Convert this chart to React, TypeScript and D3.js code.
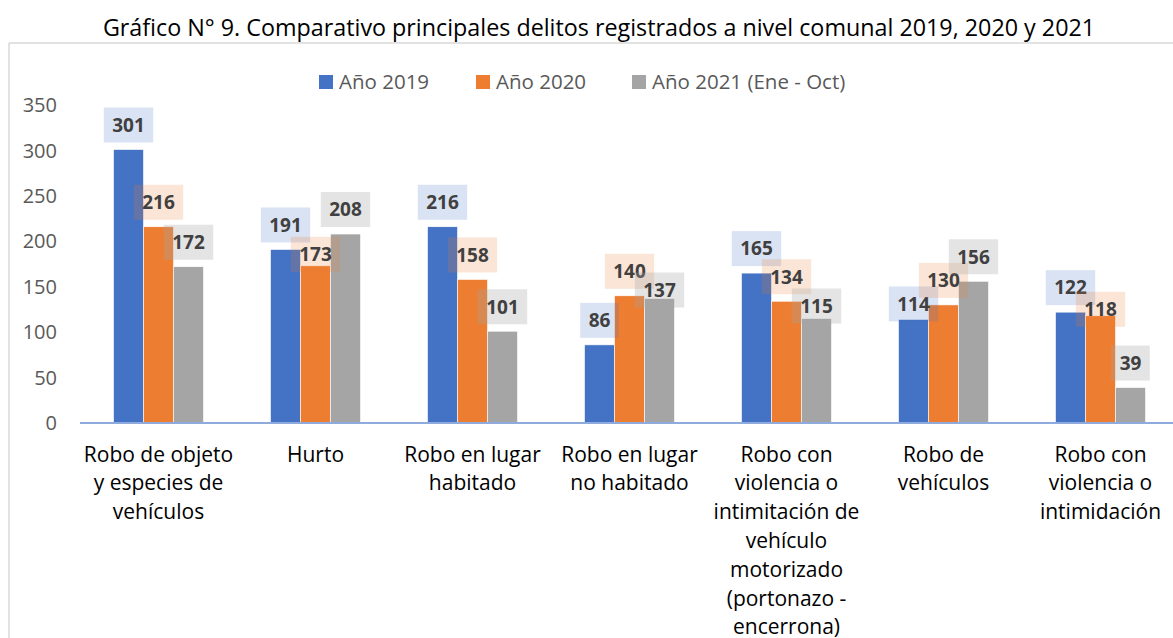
import React from "react";
import * as d3 from "d3";

const title = "Gráfico N° 9. Comparativo principales delitos registrados a nivel comunal 2019, 2020 y 2021";
const categories: string[][] = [
  ["Robo de objeto", "y especies de", "vehículos"],
  ["Hurto"],
  ["Robo en lugar", "habitado"],
  ["Robo en lugar", "no habitado"],
  ["Robo con", "violencia o", "intimitación de", "vehículo", "motorizado", "(portonazo -", "encerrona)"],
  ["Robo de", "vehículos"],
  ["Robo con", "violencia o", "intimidación"],
];
const seriesNames = ["Año 2019", "Año 2020", "Año 2021 (Ene - Oct)"];
const values2019 = [301, 191, 216, 86, 165, 114, 122];
const values2020 = [216, 173, 158, 140, 134, 130, 118];
const values2021 = [172, 208, 101, 137, 115, 156, 39];
const yTicks = [0, 50, 100, 150, 200, 250, 300, 350];

// label nudges (px, downward) that mimic the reference's label collision shifts
const labelNudge = [
  [0, 0, 0, 0, 0, 9, 0],
  [0, 13, 0, 0, 0, 0, 18],
  [0, 0, 0, 16, 12, 0, 0],
];

const colors = ["#4472c4", "#ed7d31", "#a5a5a5"];
const boxOpacity = [0.2, 0.2, 0.3];

const W = 1173;
const H = 638;
const FONT = "'Open Sans', 'DejaVu Sans', sans-serif";

export default function App() {
  const series = [values2019, values2020, values2021];
  const catKeys = categories.map((c) => c.join(" "));
  const x0 = d3
    .scaleBand<string>()
    .domain(catKeys)
    .range([80, 1179])
    .paddingInner(0.4268)
    .paddingOuter(0.2134);
  const x1 = d3
    .scaleBand<number>()
    .domain([0, 1, 2])
    .range([0, x0.bandwidth()])
    .padding(0);
  const y = d3.scaleLinear().domain([0, 350]).range([423, 105]);

  const legendX = [319, 476, 632];

  return (
    <svg
      width={W}
      height={H}
      style={{ position: "absolute", left: 0, top: 0, background: "#fff" }}
      fontFamily={FONT}
    >
      <rect x={0} y={0} width={W} height={H} fill="#fff" />
      {/* frame */}
      <line x1={9} x2={W} y1={43} y2={43} stroke="#d9d9d9" strokeWidth={1.5} />
      <line x1={9} x2={9} y1={43} y2={H} stroke="#d9d9d9" strokeWidth={1.5} />

      <text x={599} y={36} textAnchor="middle" fontSize={23.3} fill="#000">
        {title}
      </text>

      {/* legend */}
      {seriesNames.map((s, i) => (
        <g key={s}>
          <rect x={legendX[i]} y={75} width={14} height={14} fill={colors[i]} />
          <text x={legendX[i] + 20} y={89} fontSize={20.5} fill="#595959">
            {s}
          </text>
        </g>
      ))}

      {/* y axis labels */}
      {yTicks.map((t) => (
        <text
          key={t}
          x={57}
          y={y(t)}
          dy="0.36em"
          textAnchor="end"
          fontSize={20}
          fill="#595959"
        >
          {t}
        </text>
      ))}

      {/* bars */}
      {catKeys.map((k, ci) => (
        <g key={k} transform={`translate(${x0(k)},0)`}>
          {series.map((vals, si) => (
            <rect
              key={si}
              x={x1(si)!}
              y={y(vals[ci])}
              width={x1.bandwidth()}
              height={y(0) - y(vals[ci])}
              fill={colors[si]}
              stroke="#fff"
              strokeWidth={0.6}
            />
          ))}
        </g>
      ))}

      {/* axis line */}
      <line x1={80} x2={W} y1={y(0)} y2={y(0)} stroke="#8faadc" strokeWidth={2} />

      {/* data labels */}
      {series.map((vals, si) =>
        vals.map((v, ci) => {
          const cx = x0(catKeys[ci])! + x1(si)! + x1.bandwidth() / 2;
          const bw = String(v).length * 10.8 + 17;
          const bh = 35;
          const bottom = y(v) - 7 + labelNudge[si][ci];
          return (
            <g key={`${si}-${ci}`}>
              <rect
                x={cx - bw / 2}
                y={bottom - bh}
                width={bw}
                height={bh}
                fill={colors[si]}
                fillOpacity={boxOpacity[si]}
              />
              <text
                x={cx}
                y={bottom - bh / 2}
                dy="0.36em"
                textAnchor="middle"
                fontSize={19}
                fontWeight="bold"
                fill="#404040"
              >
                {v}
              </text>
            </g>
          );
        })
      )}

      {/* category labels */}
      {catKeys.map((k, ci) => {
        const cx = x0(k)! + x0.bandwidth() / 2;
        return (
          <text key={k} textAnchor="middle" fontSize={21} fill="#000">
            {categories[ci].map((line, li) => (
              <tspan key={li} x={cx} y={461.5 + li * 28.8}>
                {line}
              </tspan>
            ))}
          </text>
        );
      })}
    </svg>
  );
}
